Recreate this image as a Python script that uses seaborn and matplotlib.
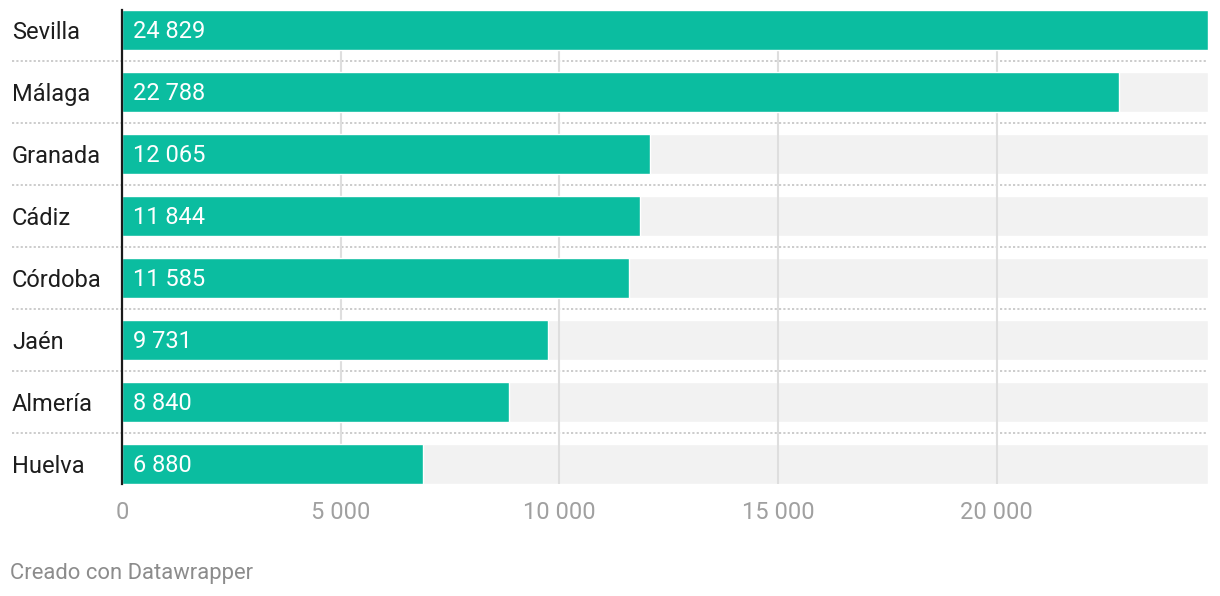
import numpy as np
import pandas as pd
import matplotlib
matplotlib.use("Agg")
import matplotlib.pyplot as plt
import matplotlib.transforms as mtransforms
import seaborn as sns

provincias = ['Sevilla', 'Málaga', 'Granada', 'Cádiz', 'Córdoba', 'Jaén', 'Almería', 'Huelva']
valores = [24829, 22788, 12065, 11844, 11585, 9731, 8840, 6880]
ticks = [0, 5000, 10000, 15000, 20000]

teal = '#0bbda0'

df = pd.DataFrame({'provincia': provincias, 'valor': valores})
df['fondo'] = max(valores)

sns.set_theme(style='white')
plt.rcParams['font.family'] = ['Roboto', 'DejaVu Sans']

fig = plt.figure(figsize=(12.2, 5.96), dpi=100)
ax = fig.add_axes([0.1, 0.1879, 0.8902, 0.7953])

# background bars, then data bars on top
sns.barplot(data=df, x='fondo', y='provincia', orient='h', color='#f2f2f2',
            width=0.645, saturation=1, ax=ax, zorder=1)
sns.barplot(data=df, x='valor', y='provincia', orient='h', color=teal,
            width=0.645, saturation=1, ax=ax, zorder=2)

ax.set_xlim(0, max(valores))
ax.set_ylim(7.3226, -0.3226)

ax.set_xticks(ticks)
ax.set_xticklabels([f'{t:,}'.replace(',', ' ') for t in ticks], color='#a0a0a0', fontsize=17)
ax.tick_params(axis='x', length=0, pad=12)
ax.set_yticks([])
ax.set_xlabel('')
ax.set_ylabel('')

# gridlines between background and data bars
ax.set_axisbelow('line')
ax.xaxis.grid(True, color='#dedede', linewidth=1.5)

for s in ['top', 'right', 'bottom']:
    ax.spines[s].set_visible(False)
ax.spines['left'].set_color('#1a1a1a')
ax.spines['left'].set_linewidth(1.6)
ax.spines['left'].set_zorder(5)

# dotted row separators
x0 = (12 - 122) / 1086
for i in range(len(provincias) - 1):
    ax.axhline(i + 0.5, xmin=x0, xmax=1, color='#c8c8c8', linewidth=1.3,
               linestyle=(0, (1.2, 1.2)), clip_on=False, zorder=1.2)

# category labels and values
lab_trans = mtransforms.blended_transform_factory(fig.transFigure, ax.transData) + \
    mtransforms.ScaledTranslation(0, -2 / 100, fig.dpi_scale_trans)
val_trans = ax.transData + mtransforms.ScaledTranslation(11 / 100, -1 / 100, fig.dpi_scale_trans)
for i, (p, v) in enumerate(zip(provincias, valores)):
    ax.text(12 / 1220, i, p, transform=lab_trans, ha='left', va='center',
            fontsize=17, color='#1d1d1d')
    ax.text(0, i, f'{v:,}'.replace(',', ' '), transform=val_trans, ha='left',
            va='center', fontsize=17, color='white', zorder=6)

fig.text(10 / 1220, 1 - 573 / 596, 'Creado con Datawrapper', ha='left', va='center',
         fontsize=15.8, color='#8c8c8c')

fig.savefig('out.png', dpi=100, facecolor='white')
